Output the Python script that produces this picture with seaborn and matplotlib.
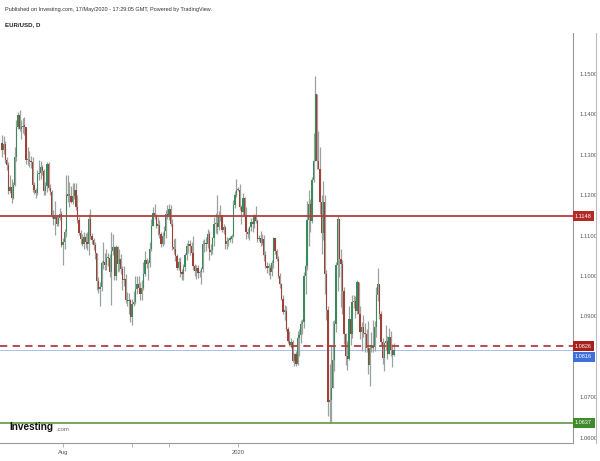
import matplotlib
matplotlib.use("Agg")
import matplotlib.pyplot as plt
import matplotlib.transforms as mtransforms
from matplotlib.lines import Line2D
import seaborn as sns
import pandas as pd
import numpy as np

# EUR/USD daily bars, 10 Jun 2019 .. 15 May 2020 (one line per month)
first_open = 1.1330
close_px = [
    1.1312, 1.1327, 1.1287, 1.1275, 1.1210, 1.1220, 1.1194, 1.1226, 1.1295, 1.1370, 1.1398, 1.1365, 1.1368, 1.1372, 1.1370,
    1.1286, 1.1287, 1.1284, 1.1282, 1.1225, 1.1212, 1.1206, 1.1252, 1.1254, 1.1270, 1.1259, 1.1210, 1.1224, 1.1276, 1.1219, 1.1209, 1.1150, 1.1140, 1.1146, 1.1128, 1.1143, 1.1154, 1.1077,
    1.1083, 1.1108, 1.1201, 1.1199, 1.1199, 1.1182, 1.1199, 1.1214, 1.1170, 1.1138, 1.1106, 1.1091, 1.1078, 1.1096, 1.1085, 1.1080, 1.1142, 1.1099, 1.1089, 1.1077, 1.1057, 1.0987,
    1.0969, 1.0973, 1.1033, 1.1035, 1.1026, 1.1045, 1.1045, 1.1010, 1.1063, 1.1073, 1.1000, 1.1073, 1.1030, 1.1042, 1.1018, 1.0990, 1.0992, 1.0941, 1.0938, 1.0940, 1.0899,
    1.0931, 1.0935, 1.0968, 1.0979, 1.0970, 1.0955, 1.0971, 1.1006, 1.1040, 1.1030, 1.1032, 1.1068, 1.1125, 1.1155, 1.1151, 1.1125, 1.1127, 1.1104, 1.1080, 1.1098, 1.1112, 1.1153, 1.1151,
    1.1166, 1.1129, 1.1071, 1.1067, 1.1049, 1.1019, 1.1034, 1.1008, 1.1006, 1.1022, 1.1051, 1.1075, 1.1078, 1.1074, 1.1056, 1.1025, 1.1013, 1.1019, 1.1008, 1.1009, 1.1017,
    1.1078, 1.1082, 1.1078, 1.1105, 1.1059, 1.1065, 1.1093, 1.1128, 1.1132, 1.1122, 1.1145, 1.1150, 1.1114, 1.1121, 1.1080, 1.1087, 1.1090, 1.1092, 1.1100, 1.1176, 1.1200, 1.1213,
    1.1214, 1.1171, 1.1159, 1.1194, 1.1152, 1.1108, 1.1105, 1.1121, 1.1133, 1.1128, 1.1150, 1.1137, 1.1092, 1.1095, 1.1082, 1.1092, 1.1053, 1.1025, 1.1021, 1.1021, 1.1010, 1.1033, 1.1093,
    1.1062, 1.1042, 1.1001, 1.0981, 1.0944, 1.0912, 1.0914, 1.0870, 1.0840, 1.0830, 1.0836, 1.0789, 1.0806, 1.0781, 1.0847, 1.0854, 1.0880, 1.0885, 1.1001, 1.1025,
    1.1139, 1.1177, 1.1136, 1.1237, 1.1284, 1.1450, 1.1284, 1.1266, 1.1183, 1.1106, 1.1183, 1.1004, 1.0917, 1.0689, 1.0692, 1.0722, 1.0791, 1.0881, 1.1028, 1.1142, 1.1043, 1.1029,
    1.0964, 1.0856, 1.0801, 1.0794, 1.0893, 1.0856, 1.0936, 1.0939, 1.0914, 1.0985, 1.0906, 1.0861, 1.0875, 1.0860, 1.0856, 1.0822, 1.0779, 1.0821, 1.0823, 1.0824, 1.0874, 1.0954,
    1.0981, 1.0906, 1.0837, 1.0797, 1.0833, 1.0840, 1.0807, 1.0849, 1.0816, 1.0804, 1.0816,
]
high_px = [
    1.1348, 1.1347, 1.1334, 1.1295, 1.1283, 1.1250, 1.1241, 1.1233, 1.1319, 1.1385, 1.1405, 1.1412, 1.1386, 1.1390, 1.1393,
    1.1367, 1.1320, 1.1310, 1.1298, 1.1294, 1.1232, 1.1218, 1.1263, 1.1286, 1.1284, 1.1275, 1.1266, 1.1232, 1.1282, 1.1283, 1.1228, 1.1212, 1.1164, 1.1185, 1.1150, 1.1152, 1.1168, 1.1162,
    1.1094, 1.1116, 1.1250, 1.1250, 1.1232, 1.1224, 1.1229, 1.1231, 1.1229, 1.1200, 1.1145, 1.1114, 1.1105, 1.1108, 1.1106, 1.1110, 1.1153, 1.1165, 1.1107, 1.1094, 1.1083, 1.1055,
    1.0998, 1.0985, 1.1038, 1.1085, 1.1058, 1.1067, 1.1056, 1.1055, 1.1109, 1.1104, 1.1075, 1.1076, 1.1075, 1.1068, 1.1054, 1.1025, 1.1025, 1.1004, 1.0960, 1.0959, 1.0944,
    1.0943, 1.0964, 1.0999, 1.0999, 1.0999, 1.0985, 1.0990, 1.1035, 1.1063, 1.1045, 1.1039, 1.1085, 1.1140, 1.1172, 1.1179, 1.1153, 1.1146, 1.1139, 1.1108, 1.1108, 1.1124, 1.1163, 1.1175,
    1.1178, 1.1176, 1.1141, 1.1092, 1.1093, 1.1055, 1.1045, 1.1047, 1.1017, 1.1030, 1.1057, 1.1081, 1.1090, 1.1089, 1.1084, 1.1098, 1.1030, 1.1028, 1.1026, 1.1016, 1.1022,
    1.1090, 1.1092, 1.1096, 1.1116, 1.1111, 1.1078, 1.1097, 1.1146, 1.1155, 1.1200, 1.1160, 1.1175, 1.1152, 1.1128, 1.1123, 1.1096, 1.1093, 1.1098, 1.1104, 1.1188, 1.1210, 1.1239,
    1.1220, 1.1228, 1.1175, 1.1206, 1.1196, 1.1172, 1.1120, 1.1125, 1.1144, 1.1146, 1.1153, 1.1173, 1.1140, 1.1102, 1.1112, 1.1103, 1.1101, 1.1062, 1.1034, 1.1032, 1.1026, 1.1040, 1.1096,
    1.1095, 1.1067, 1.1050, 1.1007, 1.0983, 1.0953, 1.0928, 1.0926, 1.0875, 1.0865, 1.0847, 1.0841, 1.0809, 1.0815, 1.0863, 1.0868, 1.0891, 1.0894, 1.1009, 1.1053,
    1.1186, 1.1214, 1.1191, 1.1245, 1.1355, 1.1496, 1.1450, 1.1359, 1.1319, 1.1200, 1.1236, 1.1201, 1.1015, 1.0925, 1.0782, 1.0828, 1.0889, 1.0890, 1.1034, 1.1148, 1.1113, 1.1068,
    1.1040, 1.0973, 1.0860, 1.0838, 1.0925, 1.0896, 1.0952, 1.0952, 1.0950, 1.0990, 1.0975, 1.0925, 1.0886, 1.0903, 1.0883, 1.0870, 1.0888, 1.0828, 1.0862, 1.0890, 1.0889, 1.0974,
    1.1019, 1.0977, 1.0914, 1.0847, 1.0837, 1.0878, 1.0852, 1.0872, 1.0865, 1.0832, 1.0835,
]
low_px = [
    1.1294, 1.1303, 1.1280, 1.1262, 1.1202, 1.1205, 1.1181, 1.1190, 1.1222, 1.1285, 1.1363, 1.1358, 1.1340, 1.1355, 1.1348,
    1.1277, 1.1275, 1.1270, 1.1268, 1.1208, 1.1204, 1.1193, 1.1201, 1.1238, 1.1240, 1.1250, 1.1200, 1.1200, 1.1209, 1.1212, 1.1200, 1.1144, 1.1127, 1.1101, 1.1123, 1.1125, 1.1138, 1.1073,
    1.1027, 1.1066, 1.1096, 1.1183, 1.1170, 1.1180, 1.1178, 1.1191, 1.1164, 1.1130, 1.1102, 1.1080, 1.1075, 1.1066, 1.1070, 1.1065, 1.1051, 1.1091, 1.1080, 1.1065, 1.1042, 1.0965,
    1.0959, 1.0926, 1.0964, 1.1017, 1.1016, 1.1015, 1.1024, 1.0998, 1.0927, 1.1053, 1.0990, 1.0991, 1.1010, 1.1012, 1.1004, 1.0965, 1.0975, 1.0933, 1.0925, 1.0905, 1.0885,
    1.0879, 1.0925, 1.0931, 1.0955, 1.0960, 1.0940, 1.0940, 1.0966, 1.1001, 1.1021, 1.0991, 1.1022, 1.1062, 1.1125, 1.1142, 1.1120, 1.1102, 1.1095, 1.1072, 1.1075, 1.1080, 1.1094, 1.1141,
    1.1138, 1.1125, 1.1064, 1.1055, 1.1036, 1.1014, 1.1016, 1.0998, 1.0989, 1.0990, 1.1012, 1.1039, 1.1057, 1.1051, 1.1050, 1.1015, 1.0999, 1.0993, 1.0996, 1.0998, 1.0981,
    1.1009, 1.1060, 1.1063, 1.1070, 1.1040, 1.1053, 1.1055, 1.1075, 1.1107, 1.1104, 1.1113, 1.1137, 1.1108, 1.1103, 1.1068, 1.1066, 1.1074, 1.1083, 1.1081, 1.1097, 1.1169, 1.1195,
    1.1210, 1.1163, 1.1128, 1.1150, 1.1134, 1.1092, 1.1093, 1.1090, 1.1111, 1.1110, 1.1118, 1.1130, 1.1085, 1.1086, 1.1075, 1.1077, 1.1036, 1.1019, 1.1008, 1.1003, 1.0992, 1.1000, 1.1019,
    1.1055, 1.1038, 1.0996, 1.0971, 1.0940, 1.0905, 1.0890, 1.0864, 1.0834, 1.0827, 1.0821, 1.0787, 1.0778, 1.0778, 1.0780, 1.0801, 1.0834, 1.0856, 1.0872, 1.0956,
    1.1014, 1.1075, 1.1110, 1.1132, 1.1233, 1.1284, 1.1266, 1.1267, 1.1153, 1.1054, 1.1090, 1.0956, 1.0891, 1.0654, 1.0636, 1.0636, 1.0733, 1.0766, 1.0861, 1.0963, 1.0997, 1.0924,
    1.0905, 1.0832, 1.0780, 1.0768, 1.0792, 1.0830, 1.0847, 1.0920, 1.0895, 1.0906, 1.0873, 1.0843, 1.0815, 1.0849, 1.0812, 1.0812, 1.0757, 1.0727, 1.0812, 1.0811, 1.0814, 1.0850,
    1.0937, 1.0894, 1.0830, 1.0782, 1.0766, 1.0816, 1.0795, 1.0806, 1.0803, 1.0775, 1.0803,
]

# horizontal levels drawn on the chart
resist_level = 1.1148
dash_level = 1.0826
last_level = 1.0816
support_level = 1.0637

price_ticks = [1.06, 1.07, 1.09, 1.10, 1.11, 1.12, 1.13, 1.14, 1.15]
month_ticks = ["2019-08-01", "2019-10-01", "2019-11-01", "2020-01-01"]
month_labels = ["Aug", "", "", "2020"]

dates = pd.bdate_range("2019-06-10", "2020-05-15")
df = pd.DataFrame({"date": dates, "close": close_px, "high": high_px, "low": low_px})
df["open"] = df["close"].shift(1).fillna(first_open)
df["high"] = df[["high", "open", "close"]].max(axis=1)
df["low"] = df[["low", "open", "close"]].min(axis=1)
df["idx"] = np.arange(len(df))
df["up"] = df["close"] >= df["open"]

sns.set_theme(style="white")
plt.rcParams["font.family"] = ["Liberation Sans", "DejaVu Sans"]

fig = plt.figure(figsize=(6, 4.61), dpi=100)
ax = fig.add_axes([0, 18 / 461, 573 / 600, 410 / 461])

up_col, dn_col, wick_col = "#3b8a5d", "#a23f37", "#9ba39f"

# wicks then bodies
ax.vlines(df["idx"], df["low"], df["high"], color=wick_col, lw=0.9, zorder=2)
body_lo = df[["open", "close"]].min(axis=1)
body_h = (df["close"] - df["open"]).abs().clip(lower=0.0003)
ax.bar(df["idx"], body_h, bottom=body_lo, width=0.8,
       color=np.where(df["up"], up_col, dn_col), linewidth=0, zorder=3)

# level lines
ax.axhline(resist_level, color="#b0403c", lw=1.3, zorder=4)
ax.axhline(dash_level, color="#b0403c", lw=1.3, ls=(0, (4, 3)), zorder=4)
ax.axhline(last_level, color="#a9bdf0", lw=0.7, zorder=1)
ax.axhline(support_level, color="#6f9f4f", lw=1.3, zorder=4)

ax.set_xlim(-2 / 1.606, 571 / 1.606)
ax.set_ylim(1.15 - (443 - 74) / 4040, 1.15 + (74 - 33) / 4040)

ax.yaxis.tick_right()
ax.set_yticks(price_ticks)
ax.set_yticklabels([f"{p:.4f}" for p in price_ticks])
ax.tick_params(axis="y", right=True, length=3, width=0.5, color="#999999",
               labelsize=4.2, labelcolor="#555555", pad=1.5)

xt = [dates.get_loc(pd.Timestamp(d)) for d in month_ticks]
ax.set_xticks(xt)
ax.set_xticklabels(month_labels)
ax.tick_params(axis="x", bottom=True, length=3, width=0.5, color="#999999",
               labelsize=4.2, labelcolor="#555555", pad=2)

sns.despine(ax=ax, top=True, left=True, right=False, bottom=False)
ax.spines["right"].set_color("#999999")
ax.spines["right"].set_linewidth(0.8)
ax.spines["bottom"].set_color("#999999")
ax.spines["bottom"].set_linewidth(0.8)

# price label boxes on the right scale
trans = mtransforms.blended_transform_factory(ax.transAxes, ax.transData)
boxes = [(resist_level, "#b22a26", 0), (dash_level, "#a8201c", 0),
         (last_level, "#3f6fd8", -4.5), (support_level, "#3f8a2a", 0)]
for lvl, col, dy in boxes:
    ax.annotate(f"{lvl:.4f}", xy=(1.0, lvl), xycoords=trans,
                xytext=(1.5, dy), textcoords="offset points",
                ha="left", va="center", fontsize=4, color="white", zorder=6,
                annotation_clip=False,
                bbox=dict(boxstyle="square,pad=0.45", fc=col, ec="none"))

# far right border
fig.add_artist(Line2D([596 / 600, 596 / 600], [18 / 461, 428 / 461],
                      transform=fig.transFigure, color="#bbbbbb", lw=0.8))

fig.text(5 / 600, 1 - 10 / 461,
         "Published on Investing.com, 17/May/2020 - 17:29:05 GMT, Powered by TradingView.",
         fontsize=4.0, color="#333333", va="center", ha="left")
fig.text(5 / 600, 1 - 25 / 461, "EUR/USD, D", fontsize=4.4, fontweight="bold",
         color="#222222", va="center", ha="left")

# watermark logo
fig.text(9 / 600, 1 - 427 / 461, "Investing", fontsize=7.2, fontweight="bold",
         color="#111111", va="center", ha="left")
fig.text(56 / 600, 1 - 429.5 / 461, ".com", fontsize=4.3, color="#666666",
         va="center", ha="left")

fig.savefig("out.png", dpi=100, facecolor="white")
